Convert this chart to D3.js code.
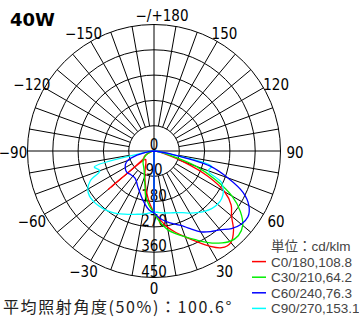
<!DOCTYPE html>
<html>
<head>
<meta charset="utf-8">
<script src="https://cdn.jsdelivr.net/npm/d3@7"></script>
<style>
html, body { margin: 0; padding: 0; background: #fff; }
svg { display: block; }
.tick-label { font-family: "Liberation Sans Narrow", "Arial Narrow", "DejaVu Sans Condensed", "Liberation Sans", sans-serif; font-size: 15px; fill: #000; }
</style>
</head>
<body>
<svg id="chart" width="359" height="317"></svg>
<script>
// iffy wrapper
(function() {

// angles from nadir, negative = C180..C270 side
const angles = [-90, -85, -80, -75, -70, -65, -60, -55, -50, -45, -40, -35, -30, -25, -20, -15, -10, -5,
                0, 5, 10, 15, 20, 25, 30, 35, 40, 45, 50, 55, 60, 65, 70, 75, 80, 85, 90];

// cd/klm
const c0Values  = [0, 2, 5, 10, 20, 30, 40, 45, 212, 42, 45, 50, 60, 75, 95, 120, 150, 185,
                   220, 245, 275, 300, 325, 355, 390, 420, 425, 400, 360, 335, 290, 210, 110, 40, 15, 5, 0];
const c30Values = [0, 2, 5, 10, 18, 28, 36, 43, 50, 55, 60, 65, 72, 82, 100, 125, 166, 195,
                   220, 255, 285, 305, 325, 348, 375, 400, 420, 425, 412, 375, 320, 240, 160, 60, 15, 5, 0];
const c60Values = [0, 10, 30, 70, 100, 112, 118, 122, 122, 118, 117, 118, 125, 138, 152, 170, 190, 210,
                   220, 240, 255, 268, 282, 305, 332, 350, 366, 390, 405, 408, 390, 350, 280, 205, 60, 10, 0];
const c90Values = [0, 15, 40, 220, 205, 250, 272, 280, 280, 277, 272, 265, 257, 248, 240, 233, 228, 222,
                   217, 220, 224, 228, 233, 242, 255, 268, 280, 290, 295, 294, 285, 265, 205, 212, 40, 10, 0];

const seriesNames = ['C0/180,108.8', 'C30/210,64.2', 'C60/240,76.3', 'C90/270,153.1'];
const seriesColors = ['#ff0000', '#00ee00', '#0000ff', '#00ffff'];
const seriesValues = [c0Values, c30Values, c60Values, c90Values];

const ringValues = [90, 180, 270, 360, 450];
const ringLabels = ['0', '90', '180', '270', '360', '450'];
const ringLabelValues = [0, 90, 180, 270, 360, 450];

const angleTicks = [180, 150, 120, 90, 60, 30, 0, -30, -60, -90, -120, -150];
const angleTickLabels = ['\u2212/+180', '150', '120', '90', '60', '30', '0', '\u221230', '\u221260', '\u221290', '\u2212120', '\u2212150'];

const title = '40W';
const unitLabel = '単位：cd/klm';
const footnote = '平均照射角度(50%)：100.6°';

document.addEventListener('DOMContentLoaded', function() {
    drawChart();
});

function drawChart() {

    var svg = d3.select('#chart');

    var cx = 154, cy = 151, radius = 126.5;

    var r = d3.scaleLinear()
        .domain([0, 450])
        .range([0, radius]);

    // degrees from nadir -> radians for lineRadial (0 = up, clockwise)
    function toRad(deg) { return Math.PI - deg * Math.PI / 180; }

    var g = svg.append('g')
        .attr('transform', 'translate(' + cx + ',' + cy + ')');

    // rings
    g.selectAll('.ring')
        .data(ringValues)
      .enter().append('circle')
        .attr('class', 'ring')
        .attr('r', function(d) { return r(d); })
        .attr('fill', 'none')
        .attr('stroke', '#000')
        .attr('stroke-width', 1);

    // spokes every 10 degrees, outside first ring
    var spokes = d3.range(0, 360, 10).filter(function(d) { return d % 90 !== 0; });
    g.selectAll('.spoke')
        .data(spokes)
      .enter().append('line')
        .attr('class', 'spoke')
        .attr('x1', function(d) { return r(90) * Math.sin(d * Math.PI / 180); })
        .attr('y1', function(d) { return r(90) * Math.cos(d * Math.PI / 180); })
        .attr('x2', function(d) { return r(450) * Math.sin(d * Math.PI / 180); })
        .attr('y2', function(d) { return r(450) * Math.cos(d * Math.PI / 180); })
        .attr('stroke', '#000')
        .attr('stroke-width', 1);

    // main axes
    g.append('line')
        .attr('x1', -r(450)).attr('x2', r(450))
        .attr('y1', 0).attr('y2', 0)
        .attr('stroke', '#000');
    g.append('line')
        .attr('x1', 0).attr('x2', 0)
        .attr('y1', -r(450)).attr('y2', r(450))
        .attr('stroke', '#000');

    // radial value labels down the nadir axis
    g.selectAll('.ring-label')
        .data(ringLabelValues)
      .enter().append('text')
        .attr('class', 'tick-label')
        .attr('x', 0)
        .attr('y', function(d) { return r(d) - 1; })
        .attr('text-anchor', 'middle')
        .text(function(d, i) { return ringLabels[i]; });

    // angle labels round the outside
    g.selectAll('.angle-label')
        .data(angleTicks)
      .enter().append('text')
        .attr('class', 'tick-label')
        .attr('x', function(d) {
            var x = 141 * Math.sin(d * Math.PI / 180);
            return d === 180 ? x + 8 : x;
        })
        .attr('y', function(d) {
            var y = 137 * Math.cos(d * Math.PI / 180) + 2;
            return d === 0 ? y - 1.5 : y;
        })
        .attr('text-anchor', 'middle')
        .attr('dominant-baseline', 'central')
        .text(function(d, i) { return angleTickLabels[i]; });

    // curves: C180.. side from nadir outwards, then the pen jumps back
    // to nadir and draws the C0.. side
    var line = d3.lineRadial()
        .angle(function(d) { return toRad(d[0]); })
        .radius(function(d) { return r(d[1]); })
        .curve(d3.curveCatmullRom.alpha(0.5));

    var mid = angles.indexOf(0);
    var order = [0, 1, 3, 2];   // blue on top
    order.forEach(function(s) {
        var vals = seriesValues[s];
        var left = [], right = [];
        for (var i = mid; i >= 0; i--) left.push([angles[i], vals[i]]);
        for (var j = mid; j < angles.length; j++) right.push([angles[j], vals[j]]);
        g.append('path')
            .attr('d', line(left) + line(right).replace(/^M/, 'L'))
            .attr('fill', 'none')
            .attr('stroke', seriesColors[s])
            .attr('stroke-width', 1.3)
            .attr('stroke-linejoin', 'round');
    });

    // title
    svg.append('text')
        .attr('x', 10)
        .attr('y', 26)
        .style('font-family', '"DejaVu Sans", sans-serif')
        .style('font-weight', 'bold')
        .style('font-size', '18px')
        .text(title);

    // legend
    var legendX = 252, legendY = 251, rowH = 15.6;
    svg.append('text')
        .attr('x', legendX + 19)
        .attr('y', legendY)
        .style('font-family', '"Liberation Sans", "Noto Sans CJK JP", sans-serif')
        .style('font-size', '13.5px')
        .attr('fill', '#444')
        .text(unitLabel);

    var rows = svg.selectAll('.legend-row')
        .data(seriesNames)
      .enter().append('g')
        .attr('class', 'legend-row')
        .attr('transform', function(d, i) { return 'translate(' + legendX + ',' + (legendY + rowH * (i + 1)) + ')'; });

    rows.append('line')
        .attr('x1', 0).attr('x2', 14)
        .attr('y1', -5).attr('y2', -5)
        .attr('stroke', function(d, i) { return seriesColors[i]; })
        .attr('stroke-width', 1.5);

    rows.append('text')
        .attr('x', 19)
        .attr('y', 0)
        .style('font-family', '"Liberation Sans", sans-serif')
        .style('font-size', '13.5px')
        .attr('fill', '#444')
        .text(function(d) { return d; });

    // footnote
    svg.append('text')
        .attr('x', 3)
        .attr('y', 313)
        .style('font-family', '"Noto Sans CJK JP", sans-serif')
        .style('font-size', '16px')
        .style('letter-spacing', '1.6px')
        .attr('fill', '#222')
        .text(footnote);
}

})(); // end iffy
</script>
</body>
</html>
